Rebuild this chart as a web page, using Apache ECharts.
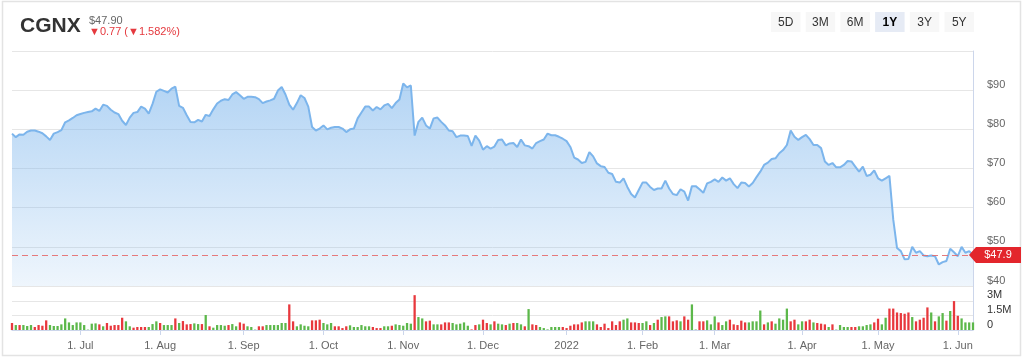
<!DOCTYPE html>
<html><head><meta charset="utf-8">
<script src="https://cdn.jsdelivr.net/npm/echarts@6/dist/echarts.min.js"></script>
<style>html,body{margin:0;padding:0;background:#fff}#c{width:1024px;height:358px}</style>
</head><body><div id="c"></div>
<script>
// ---- data ----
const ticker = 'CGNX';
const lastPrice = 47.90;
const changeAbs = 0.77;
const changePct = 1.582;
const startDate = '2021-06-07';
const endDate = '2022-06-07';
const holidays = ['2021-07-05','2021-09-06','2021-11-25','2021-12-24','2022-01-17','2022-02-21','2022-04-15','2022-05-30'];
const rangeButtons = ['5D','3M','6M','1Y','3Y','5Y'];
const selectedRange = '1Y';
const monthNames = ['Jan','Feb','Mar','Apr','May','Jun','Jul','Aug','Sep','Oct','Nov','Dec'];
const priceTicks = [40,50,60,70,80,90];
const volumeTicks = [0,1.5,3];
const volumeTickLabels = ['0','1.5M','3M'];

const closePrices = [
78.9,78.0,78.7,78.6,79.4,79.7,79.7,79.4,79.0,78.2,
77.3,78.9,79.3,79.8,81.8,82.3,82.9,83.6,83.9,84.2,
84.4,84.6,85.3,84.7,86.3,86.0,85.0,84.3,83.9,82.2,
81.1,83.0,84.2,84.4,85.8,85.3,84.0,86.5,89.6,90.2,
89.8,89.4,90.4,90.9,86.0,85.5,83.6,81.9,81.8,82.4,
82.0,83.7,83.4,85.1,86.6,87.3,87.7,87.5,88.9,89.5,
88.7,87.8,88.3,88.3,88.2,87.7,86.7,87.1,87.4,87.8,
89.9,90.8,88.9,86.3,85.0,86.7,88.7,88.0,85.8,80.6,
79.7,80.2,81.0,80.0,80.4,80.6,80.6,80.2,79.3,80.0,
80.2,82.8,84.3,85.8,85.8,84.8,85.7,85.1,86.1,86.5,
85.4,86.7,87.6,91.7,90.7,91.2,78.4,81.9,83.0,81.0,
80.2,82.8,83.0,81.9,81.0,79.7,79.5,78.0,78.4,78.4,
78.3,75.8,78.4,77.1,74.8,75.7,75.1,75.6,77.3,77.4,
75.9,76.4,76.5,75.5,77.4,75.9,75.7,75.1,76.5,77.0,
77.4,78.9,78.5,78.5,78.1,77.6,77.0,75.5,72.8,72.3,
71.4,71.7,74.2,73.1,71.3,70.6,70.4,68.9,68.6,66.6,
66.4,67.5,65.3,63.5,62.6,64.5,66.4,66.4,65.3,64.5,
64.9,64.9,66.9,64.9,63.5,63.2,64.7,64.1,61.8,65.5,
65.5,64.7,63.8,66.2,66.6,67.2,66.6,67.7,66.9,67.5,
66.0,65.0,66.4,66.3,65.4,66.3,67.8,69.2,70.9,71.5,
72.4,72.6,73.9,74.7,76.0,79.7,78.1,77.3,78.0,78.6,
77.5,76.0,76.0,75.2,71.8,70.9,71.4,70.3,70.3,70.9,
71.9,71.8,70.5,69.2,70.5,68.1,68.4,69.5,67.5,66.9,
67.5,68.1,57.0,49.7,48.9,46.8,46.9,50.0,48.5,48.9,
47.8,47.6,47.8,47.6,45.5,46.1,46.4,49.5,48.6,47.6,
50.0,48.5,48.9,47.9
];

// volume in millions of shares
const volumesM = [
.72,.51,.51,.51,.41,.51,.31,.51,.44,.99,
.51,.41,.41,.58,1.19,.78,.51,.78,.78,.51,
.04,.65,.68,.58,.38,.72,.44,.51,.51,1.26,
.89,.38,.24,.31,.31,.31,.31,.61,.89,.72,
.51,.51,.51,1.19,.72,.92,.58,.61,.68,.61,
.61,1.54,.38,.24,.51,.51,.44,.51,.61,.38,
.78,.65,.38,.31,.04,.38,.38,.51,.51,.51,
.51,.72,.72,2.63,.89,.38,.58,.44,.38,.99,
.99,1.06,.72,.58,.72,.38,.38,.2,.38,.48,
.31,.31,.51,.38,.38,.31,.2,.2,.38,.38,
.44,.58,.51,.44,.72,.65,3.58,1.33,1.19,.89,
.96,.58,.58,.58,.78,.78,.72,.58,.65,.78,
.44,.06,.51,.58,1.06,.72,.58,.89,.65,.58,
.51,.65,.72,.72,.58,.38,2.15,.58,.51,.31,
.2,.06,.31,.31,.31,.31,.2,.44,.58,.58,
.78,.89,.89,.89,.58,.31,.65,.2,.89,.51,
.89,1.06,1.19,.78,.78,.72,.72,.89,.51,.72,
1.06,1.33,1.4,1.4,.89,.99,.89,1.4,1.06,2.63,
.05,.89,.89,.99,.58,1.4,.78,.51,.89,1.06,
.58,.51,.96,.78,.78,.89,.89,2.0,.58,.78,
.89,.65,1.19,1.06,2.2,.89,1.06,.58,.89,.89,
1.06,.78,.72,.65,.58,.31,.58,.04,.51,.31,
.31,.31,.31,.38,.38,.51,.58,.78,1.16,.58,
1.26,2.2,2.2,1.8,1.74,1.67,1.8,1.33,.89,1.06,
1.26,2.32,1.8,.89,1.4,1.74,.96,1.95,2.97,1.46,
1.19,.78,.78,.78
];

// 1 = up day (green volume bar), 0 = down day (red)
const volumeUp = [
0,1,0,1,1,1,0,0,0,0,
1,1,1,1,1,1,1,1,1,1,
1,1,1,0,1,0,0,0,0,0,
1,1,0,0,0,0,1,1,1,0,
1,1,1,0,1,0,0,0,1,1,
0,1,0,1,1,1,1,0,1,1,
0,0,1,1,1,0,0,1,1,1,
1,1,1,0,0,1,1,1,1,0,
0,0,1,1,1,0,0,0,0,1,
1,1,1,1,1,0,0,0,1,1,
0,1,1,1,1,1,0,1,1,0,
0,1,1,0,0,0,1,1,1,1,
1,0,0,1,0,0,1,0,1,1,
0,1,0,1,1,0,1,0,0,1,
1,1,1,1,1,0,0,0,0,0,
0,1,1,1,0,0,0,0,0,0,
0,1,1,0,0,0,1,1,0,1,
0,1,1,0,0,0,1,0,0,1,
1,0,0,1,1,1,0,1,1,0,
0,0,0,0,1,1,1,1,0,1,
0,1,1,1,1,0,0,1,1,0,
0,1,0,0,0,1,0,1,1,1,
1,0,0,1,1,1,1,0,0,1,
1,0,0,0,0,0,0,1,0,0,
0,0,1,0,1,1,0,1,0,0,
1,1,1,1
];

// ---- trading-day categories ----
function tradingDays(start, end, hol) {
  const out = [];
  const d = new Date(start + 'T00:00:00Z');
  const e = new Date(end + 'T00:00:00Z');
  while (d <= e) {
    const iso = d.toISOString().slice(0,10);
    const wd = d.getUTCDay();
    if (wd !== 0 && wd !== 6 && hol.indexOf(iso) < 0) out.push(iso);
    d.setUTCDate(d.getUTCDate() + 1);
  }
  return out;
}
const dates = tradingDays(startDate, endDate, holidays);
const monthStart = dates.map((d, i) => i > 0 && d.slice(0,7) !== dates[i-1].slice(0,7));
function dateLabel(v) {
  const m = parseInt(v.slice(5,7), 10) - 1;
  return m === 0 ? v.slice(0,4) : '1. ' + monthNames[m];
}

const FONT = '"Liberation Sans", Arial, Helvetica, sans-serif';
const GREEN = '#5cb84a', RED = '#e8383d', TAGRED = '#e3262c';

const chart = echarts.init(document.getElementById('c'), null, {renderer: 'canvas'});

// header graphics
const graphics = [
  {type:'rect', shape:{x:2.5, y:1.5, width:1018, height:354}, style:{fill:'none', stroke:'#e3e3e3', lineWidth:1.5}, silent:true},
  {type:'text', style:{x:20, y:26, text:ticker, font:'bold 21px ' + FONT, fill:'#333333', verticalAlign:'middle'}},
  {type:'text', style:{x:89, y:21, text:'$' + lastPrice.toFixed(2), font:'11px ' + FONT, fill:'#666666', verticalAlign:'middle'}},
  {type:'text', style:{x:89, y:32, text:'\u25BC' + changeAbs.toFixed(2) + ' (\u25BC' + changePct.toFixed(3) + '%)', font:'11px ' + FONT, fill:'#e5393e', verticalAlign:'middle'}}
];
rangeButtons.forEach((b, k) => {
  const x0 = 771 + k * 34.7;
  const sel = b === selectedRange;
  graphics.push({type:'rect', shape:{x:x0, y:12, width:29.5, height:20}, style:{fill: sel ? '#e6ebf5' : '#f7f7f7'}, silent:true});
  graphics.push({type:'text', style:{x:x0 + 14.75, y:22.5, text:b, font:(sel ? 'bold ' : '') + '12px ' + FONT, fill: sel ? '#000000' : '#333333', align:'center', verticalAlign:'middle'}});
});

const option = {
  animation: false,
  backgroundColor: '#ffffff',
  textStyle: {fontFamily: FONT},
  graphic: graphics,
  grid: [
    {left:12, right:51, top:51, height:235, outerBoundsMode:'none'},
    {left:12, right:51, top:286, height:44, outerBoundsMode:'none'}
  ],
  xAxis: [
    {type:'category', gridIndex:0, data:dates, boundaryGap:false,
     axisLine:{show:false}, axisTick:{show:false}, axisLabel:{show:false}, splitLine:{show:false}},
    {type:'category', gridIndex:1, data:dates, boundaryGap:false,
     axisLine:{show:true, lineStyle:{color:'#ccd6eb', width:1}},
     axisTick:{show:true, length:5, lineStyle:{color:'#ccd6eb'}, interval:(i) => monthStart[i]},
     axisLabel:{show:true, interval:(i) => monthStart[i], formatter:dateLabel, color:'#666666', fontSize:11, margin:10, fontFamily:FONT},
     splitLine:{show:false}}
  ],
  yAxis: [
    {type:'value', gridIndex:0, position:'right', min:40, max:100, interval:10,
     axisLine:{show:true, lineStyle:{color:'#ccd6eb', width:1}}, axisTick:{show:false},
     splitLine:{show:true, lineStyle:{color:'#e6e6e6', width:1}},
     axisLabel:{color:'#666666', fontSize:11, margin:14, verticalAlign:'bottom', fontFamily:FONT,
       formatter:(v) => priceTicks.indexOf(v) >= 0 ? '$' + v : ''}},
    {type:'value', gridIndex:1, position:'right', min:0, max:4.52, interval:1.5,
     axisLine:{show:true, lineStyle:{color:'#ccd6eb', width:1}}, axisTick:{show:false},
     splitLine:{show:true, lineStyle:{color:'#e6e6e6', width:1}},
     axisLabel:{color:'#333333', fontSize:11, margin:14, verticalAlign:'bottom', fontFamily:FONT,
       formatter:(v) => { const k = volumeTicks.indexOf(v); return k >= 0 ? volumeTickLabels[k] : ''; }}}
  ],
  series: [
    {type:'line', xAxisIndex:0, yAxisIndex:0, data:closePrices, symbol:'none', smooth:false,
     lineStyle:{color:'#7cb5ec', width:2},
     areaStyle:{color:new echarts.graphic.LinearGradient(0,0,0,1,[
       {offset:0, color:'rgba(124,181,236,0.82)'},
       {offset:1, color:'rgba(124,181,236,0.18)'}])},
     markLine:{silent:true, symbol:['none','none'], label:{show:false},
       lineStyle:{color:'#e46b6e', type:[6,4], width:1.2, opacity:0.9},
       data:[{yAxis:lastPrice}]},
     markPoint:{silent:true,
       data:[{coord:[dates.length - 1, lastPrice]}],
       symbol:'path://M0,8 L7,0 L52,0 L52,16 L7,16 Z', symbolSize:[52,16], symbolOffset:[22,0],
       itemStyle:{color:TAGRED},
       label:{show:true, formatter:'$' + (+lastPrice.toFixed(1)), color:'#ffffff', fontSize:11, fontFamily:FONT, offset:[3,0], position:'inside'}}
    },
    {type:'bar', xAxisIndex:1, yAxisIndex:1, data:volumesM, barWidth:'60%',
     itemStyle:{color:(p) => volumeUp[p.dataIndex] ? GREEN : RED}}
  ]
};
chart.setOption(option);
</script>
</body></html>
